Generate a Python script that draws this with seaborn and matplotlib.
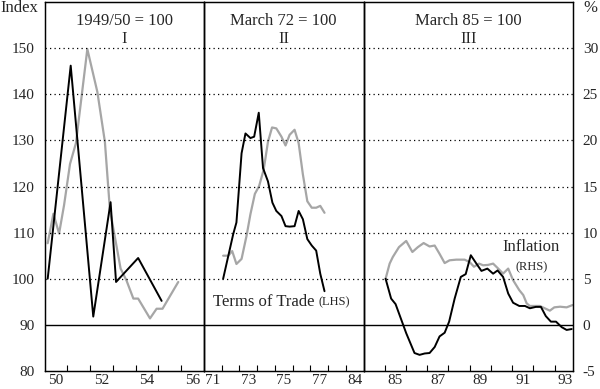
import matplotlib
matplotlib.use("Agg")
import matplotlib.pyplot as plt
import seaborn as sb
import pandas as pd

# Panel I (1949/50 = 100)
tot1Year = [50.14, 51.15, 52.14, 52.90, 53.14, 54.11, 55.14]
tot1Index = [100, 146.2, 91.8, 116.6, 99.3, 104.5, 95.2]
inf1Year = [50.14, 50.39, 50.64, 50.86, 51.12, 51.38, 51.88, 52.32, 52.65, 52.87,
            53.09, 53.34, 53.60, 53.90, 54.11, 54.63, 54.92, 55.18, 55.87]
inf1Pct = [8.85, 12.05, 9.9, 13.0, 17.45, 19.7, 29.9, 25.25, 19.85, 12.5,
           9.5, 6.1, 4.8, 2.85, 2.85, 0.7, 1.75, 1.75, 4.65]

# Panel II (March 72 = 100)
tot2Year = [72.08, 72.65, 72.83, 73.12, 73.34, 73.62, 73.83, 74.09, 74.33, 74.61,
            74.86, 75.08, 75.37, 75.60, 75.83, 76.11, 76.34, 76.58, 76.83, 77.08,
            77.33, 77.56, 77.80]
tot2Index = [100, 109.7, 112.2, 127.2, 131.5, 130.5, 130.8, 136.0, 124.0, 121.1,
             116.5, 114.7, 113.6, 111.4, 111.3, 111.4, 114.7, 112.9, 108.6, 107.2,
             106.1, 101.1, 97.3]
inf2Year = [72.08, 72.37, 72.59, 72.83, 73.12, 73.40, 73.62, 73.87, 74.11, 74.37,
            74.61, 74.84, 75.08, 75.37, 75.60, 75.83, 76.11, 76.34, 76.58, 76.83,
            77.08, 77.33, 77.56, 77.80]
inf2Pct = [7.5, 7.5, 8.0, 6.6, 7.15, 9.65, 12.0, 14.2, 15.05, 16.85,
           19.85, 21.4, 21.3, 20.4, 19.45, 20.6, 21.15, 19.7, 16.3, 13.4,
           12.7, 12.7, 12.9, 12.15]

# Panel III (March 85 = 100)
tot3Year = [85.04, 85.30, 85.51, 85.78, 86.01, 86.40, 86.64, 86.88, 87.11, 87.35,
            87.58, 87.82, 88.03, 88.29, 88.58, 88.81, 89.05, 89.31, 89.55, 89.83,
            90.10, 90.31, 90.57, 90.81, 91.04, 91.33, 91.60, 91.83, 92.11, 92.35,
            92.58, 92.82, 93.06, 93.33, 93.56, 93.80]
tot3Index = [100, 95.7, 94.5, 91.1, 88.2, 83.9, 83.5, 83.8, 83.9, 85.2,
             87.5, 88.3, 90.7, 95.7, 100.4, 101.0, 105.1, 103.3, 101.7, 102.2,
             101.1, 101.8, 100.4, 96.8, 94.8, 94.1, 94.1, 93.6, 93.9, 93.9,
             91.9, 90.7, 90.7, 89.5, 88.9, 89.1]
inf3Year = [85.04, 85.23, 85.38, 85.67, 86.01, 86.30, 86.56, 86.83, 87.11, 87.35,
            87.58, 87.82, 88.05, 88.37, 88.76, 89.00, 89.20, 89.44, 89.63, 89.86,
            90.10, 90.34, 90.57, 90.81, 91.04, 91.33, 91.52, 91.68, 91.83, 92.11,
            92.30, 92.53, 92.77, 92.98, 93.25, 93.56, 93.84]
inf3Pct = [5.0, 6.64, 7.36, 8.43, 9.1, 7.9, 8.43, 8.87, 8.5, 8.6,
           7.7, 6.7, 7.0, 7.07, 7.07, 6.8, 6.3, 6.64, 6.46, 6.5,
           6.64, 6.1, 5.56, 6.1, 4.85, 3.77, 3.23, 2.33, 2.05, 2.05,
           2.05, 1.8, 1.54, 1.9, 1.97, 1.9, 2.15]

indexTicks = [80, 90, 100, 110, 120, 130, 140, 150]
pctTicks = [-5, 0, 5, 10, 15, 20, 25, 30]
pctTickLabels = ["-5", "0", "5", "10", "15", "20", "25", "30"]

panelTitles = ["1949/50 = 100", "March 72 = 100", "March 85 = 100"]
panelNumbers = ["I", "II", "III"]
panelXlims = [(50, 57), (71, 80), (84, 93.86)]
panelYearLabels = [["50", "52", "54", "56"], ["71", "73", "75", "77", "84"],
                   ["85", "87", "89", "91", "93"]]
panelLabelPos = [[50.5, 52.5, 54.5, 56.5], [71.5, 73.5, 75.5, 77.5, 79.5],
                 [85.5, 87.5, 89.5, 91.5, 93.5]]

sb.set_style("ticks")
plt.rcParams['font.family'] = ['Liberation Serif', 'DejaVu Serif']
plt.rcParams['font.size'] = 12
plt.rcParams['xtick.labelsize'] = 11
plt.rcParams['ytick.labelsize'] = 11
plt.rcParams['axes.unicode_minus'] = False

W, H = 600, 389
fig = plt.figure(figsize=(6, 3.89), dpi=100)

edges = [44.5, 204, 363.5, 573]
bottomPx, topPx = 371, 2

totData = [(tot1Year, tot1Index), (tot2Year, tot2Index), (tot3Year, tot3Index)]
infData = [(inf1Year, inf1Pct), (inf2Year, inf2Pct), (inf3Year, inf3Pct)]

for i in range(3):
    left = edges[i] / W
    width = (edges[i + 1] - edges[i]) / W
    ax = fig.add_axes([left, (H - bottomPx) / H, width, (bottomPx - topPx) / H])
    tw = ax.twinx()
    ax.set_zorder(tw.get_zorder() + 1)
    ax.patch.set_visible(False)

    dfInf = pd.DataFrame({"year": infData[i][0], "pct": infData[i][1]})
    dfTot = pd.DataFrame({"year": totData[i][0], "index": totData[i][1]})
    sb.lineplot(data=dfInf, x="year", y="pct", ax=tw, color="#a6a6a6", lw=1.6)
    sb.lineplot(data=dfTot, x="year", y="index", ax=ax, color="black", lw=1.4)

    ax.set_xlim(*panelXlims[i])
    ax.set_ylim(80, 160)
    tw.set_ylim(-5, 35)

    for y in indexTicks[2:]:
        ax.axhline(y, color="black", lw=0.9, linestyle=(0, (1, 2.6)), zorder=0)
    ax.axhline(90, color="black", lw=1.0, zorder=0)

    lo, hi = panelXlims[i]
    ax.set_xticks(list(range(int(lo) + 1, int(hi) + (0 if hi == int(hi) else 1))), minor=True)
    ax.set_xticks(panelLabelPos[i])
    ax.set_xticklabels(panelYearLabels[i])
    ax.tick_params(axis="x", which="minor", direction="in", length=4, width=0.8, color="black")
    ax.tick_params(axis="x", which="major", length=0, pad=2)
    ax.set_xlabel("")
    ax.set_ylabel("")
    tw.set_ylabel("")

    if i == 0:
        ax.set_yticks(indexTicks)
        ax.tick_params(axis="y", length=0, pad=7)
    else:
        ax.set_yticks([])
    if i == 2:
        tw.set_yticks(pctTicks)
        tw.set_yticklabels(pctTickLabels)
        tw.tick_params(axis="y", length=0, pad=7)
    else:
        tw.set_yticks([])

    for a in (ax, tw):
        for s in a.spines.values():
            s.set_color("black")
            s.set_linewidth(0.9)

    ax.text(0.5, 0.9475, panelTitles[i], transform=ax.transAxes, ha="center", va="center")
    ax.text(0.5, 0.899, panelNumbers[i], transform=ax.transAxes, ha="center", va="center")

    if i == 1:
        t = ax.text(71.5, 95, "Terms of Trade ", ha="left", va="center")
        ax.annotate("(LHS)", xycoords=t, xy=(1, 0.5), ha="left", va="center", fontsize=9)
    if i == 2:
        ax.text(91.9, 106.8, "Inflation", ha="center", va="center")
        ax.text(91.9, 102.4, "(RHS)", ha="center", va="center", fontsize=9)

fig.text(38 / W, 1 - 8 / H, "Index", ha="right", va="center")
fig.text(583 / W, 1 - 8 / H, "%", ha="left", va="center")

fig.savefig("out.png", dpi=100)
